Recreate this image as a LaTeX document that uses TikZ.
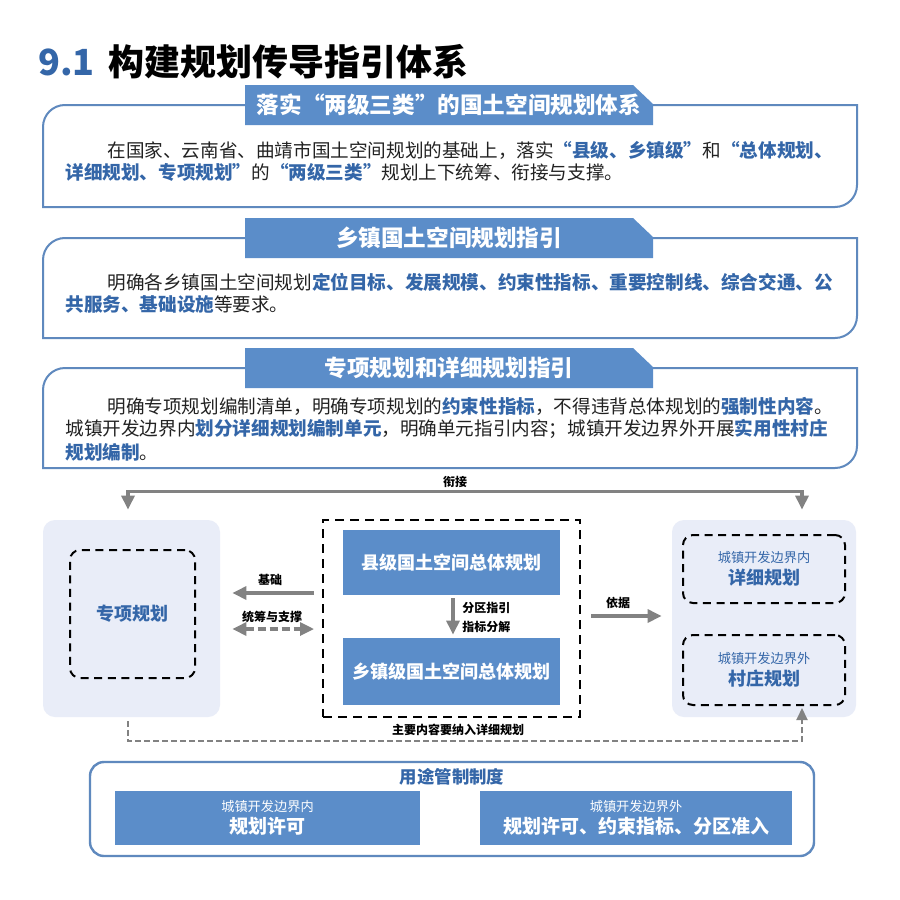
\documentclass[tikz,border=0pt]{standalone}
\usepackage{fontspec}
\setmainfont{Noto Sans CJK SC}
\usetikzlibrary{arrows.meta}
\definecolor{tblue}{HTML}{3466A8}
\definecolor{fblue}{HTML}{5B8DC9}
\definecolor{oblue}{HTML}{5F89BE}
\definecolor{lav}{HTML}{E9EDF8}
\definecolor{gr}{HTML}{828282}
\definecolor{txt}{HTML}{222222}
\newcommand{\hl}[1]{{\bfseries\color{tblue}#1}}
\begin{document}
\begin{tikzpicture}[x=0.5pt,y=-0.5pt,
  outl/.style={draw=oblue,line width=1pt},
  tabfill/.style={fill=fblue},
  tabtxt/.style={text=white,font=\bfseries\fontsize{11.3}{13}\selectfont,inner sep=0},
  body/.style={anchor=west,inner sep=0,text=txt,font=\fontsize{9.3}{11}\selectfont},
  lbl/.style={font=\bfseries\fontsize{6}{7}\selectfont,text=black,inner sep=0},
  gtip/.style={-{Triangle[length=7pt,width=6.5pt]}},
  garrow/.style={draw=gr,line width=1.6pt},
  dashbox/.style={draw=black,line width=1pt,dash pattern=on 4pt off 2.8pt},
  panel/.style={fill=lav,rounded corners=6pt,inner sep=0},
  bluebox/.style={fill=fblue,text=white,inner sep=0,align=center},
]
\useasboundingbox (0,0) rectangle (900,900);
\fill[white] (0,0) rectangle (900,900);

% title
\node[anchor=west,inner sep=0,text=tblue,font=\bfseries\fontsize{18}{20}\selectfont] (tnum) at (38,62) {9.1};
\node[anchor=west,inner sep=0,text=black,font=\bfseries\fontsize{18}{20}\selectfont] (ttl) at (108,62) {构建规划传导指引体系};

% box 1
\draw[outl] (245,105) -- (65,105) .. controls (52.8,105) and (43,114.8) .. (43,127) -- (43,207) -- (835,207) .. controls (847.2,207) and (857,197.2) .. (857,185) -- (857,105) -- (653,105);
\fill[tabfill] (245,85) -- (633,85) -- (653,104) -- (653,125) -- (245,125) -- cycle;
\node[tabtxt] (t1) at (449,105) {落实“两级三类”的国土空间规划体系};
\node[body] (b1a) at (107,150) {在国家、云南省、曲靖市国土空间规划的基础上，落实\hl{“县级、乡镇级”}和\hl{“总体规划、}};
\node[body] (b1b) at (65,172) {\hl{详细规划、专项规划”}的\hl{“两级三类”}规划上下统筹、衔接与支撑。};

% box 2
\draw[outl] (245,238) -- (65,238) .. controls (52.8,238) and (43,247.8) .. (43,260) -- (43,338) -- (835,338) .. controls (847.2,338) and (857,328.2) .. (857,316) -- (857,238) -- (653,238);
\fill[tabfill] (245,218) -- (633,218) -- (653,237) -- (653,258) -- (245,258) -- cycle;
\node[tabtxt] (t2) at (449,238) {乡镇国土空间规划指引};
\node[body] (b2a) at (107,282) {明确各乡镇国土空间规划\hl{定位目标、发展规模、约束性指标、重要控制线、综合交通、公}};
\node[body] (b2b) at (65,304) {\hl{共服务、基础设施}等要求。};

% box 3
\draw[outl] (245,368) -- (65,368) .. controls (52.8,368) and (43,377.8) .. (43,390) -- (43,468) -- (835,468) .. controls (847.2,468) and (857,458.2) .. (857,446) -- (857,368) -- (653,368);
\fill[tabfill] (245,348) -- (633,348) -- (653,367) -- (653,388) -- (245,388) -- cycle;
\node[tabtxt] (t3) at (449,368) {专项规划和详细规划指引};
\node[body] (b3a) at (107,406) {明确专项规划编制清单，明确专项规划的\hl{约束性指标}，不得违背总体规划的\hl{强制性内容}。};
\node[body] (b3b) at (65,429) {城镇开发边界内\hl{划分详细规划编制单元}，明确单元指引内容；城镇开发边界外开展\hl{实用性村庄}};
\node[body] (b3c) at (65,452) {\hl{规划编制}。};

% left panel
\node[panel,minimum width=88.5pt,minimum height=98.5pt] (lp) at (131.5,618.5) {};
\node[dashbox,rounded corners=5pt,minimum width=62.5pt,minimum height=64pt,text=tblue,font=\bfseries\fontsize{9}{11}\selectfont] (zx) at (132.5,614) {专项规划};

% center
\node[dashbox,dash pattern=on 4.5pt off 3pt,minimum width=128.5pt,minimum height=98.5pt] (cbox) at (451.5,618.5) {};
\node[bluebox,minimum width=108.5pt,minimum height=32.5pt,font=\bfseries\fontsize{9}{11}\selectfont] (xj) at (451.5,562.5) {县级国土空间总体规划};
\node[bluebox,minimum width=108.5pt,minimum height=33.5pt,font=\bfseries\fontsize{9}{11}\selectfont] (xzj) at (451.5,671.5) {乡镇级国土空间总体规划};
\draw[garrow,gtip] ([shift={(1.5,3)}]xj.south) -- ([shift={(1.5,-3)}]xzj.north);
\node[lbl,anchor=west] (fq) at (462,608) {分区指引};
\node[lbl,anchor=west] (zb) at (462,627) {指标分解};

% right panel
\node[panel,minimum width=92pt,minimum height=98.5pt] (rp) at (764,618.5) {};
\node[dashbox,rounded corners=5pt,minimum width=81pt,minimum height=34pt,text=tblue,align=center] (rin) at (764,569) {{\fontsize{6.6}{8}\selectfont 城镇开发边界内}\\[-1pt]{\bfseries\fontsize{9}{11}\selectfont 详细规划}};
\node[dashbox,rounded corners=5pt,minimum width=81pt,minimum height=35pt,text=tblue,align=center] (rout) at (764,670) {{\fontsize{6.6}{8}\selectfont 城镇开发边界外}\\[-1pt]{\bfseries\fontsize{9}{11}\selectfont 村庄规划}};

% connectors
\draw[garrow,{Triangle[length=7pt,width=6.5pt]}-{Triangle[length=7pt,width=6.5pt]}] ([shift={(-3.5,-10)}]lp.north) -- ++(0,-18) -| ([shift={(38,-10)}]rp.north);
\node[lbl] (xjl) at (455,482) {衔接};

\draw[garrow,gtip] ([shift={(-8,-25.5)}]cbox.west) -- ([shift={(12,-25.5)}]lp.east);
\node[lbl] (jc) at (270,580) {基础};
\draw[garrow,dash pattern=on 4pt off 2pt,{Triangle[length=7pt,width=6.5pt]}-{Triangle[length=7pt,width=6.5pt]}] ([shift={(12,10.5)}]lp.east) -- ([shift={(-8,10.5)}]cbox.west);
\node[lbl] (tc) at (272,617) {统筹与支撑};

\draw[garrow,gtip] ([shift={(10,-2.5)}]cbox.east) -- ([shift={(-10,-2.5)}]rp.west);
\node[lbl] (yj) at (618,603) {依据};

\draw[draw=gr,line width=1pt,dash pattern=on 3pt off 1.5pt,-{Triangle[length=6pt,width=5.5pt]}] ([shift={(-3.5,4)}]lp.south) -- ++(0,20) -| ([shift={(38,2)}]rout.south);
\node[lbl] (zy) at (458,730) {主要内容要纳入详细规划};

% bottom box
\node[draw=oblue,line width=1.2pt,rounded corners=7pt,minimum width=362pt,minimum height=47pt,inner sep=0] (yt) at (452,809) {};
\node[inner sep=0,text=tblue,font=\bfseries\fontsize{8.7}{10}\selectfont] (ytt) at (452,777) {用途管制制度};
\node[bluebox,minimum width=152.5pt,minimum height=27pt] (bl) at (267.5,818) {{\fontsize{6.6}{8}\selectfont 城镇开发边界内}\\[-1pt]{\bfseries\fontsize{9.5}{11}\selectfont 规划许可}};
\node[bluebox,minimum width=156pt,minimum height=27pt] (br) at (636,818) {{\fontsize{6.6}{8}\selectfont 城镇开发边界外}\\[-1pt]{\bfseries\fontsize{9.5}{11}\selectfont 规划许可、约束指标、分区准入}};
\end{tikzpicture}
\end{document}
